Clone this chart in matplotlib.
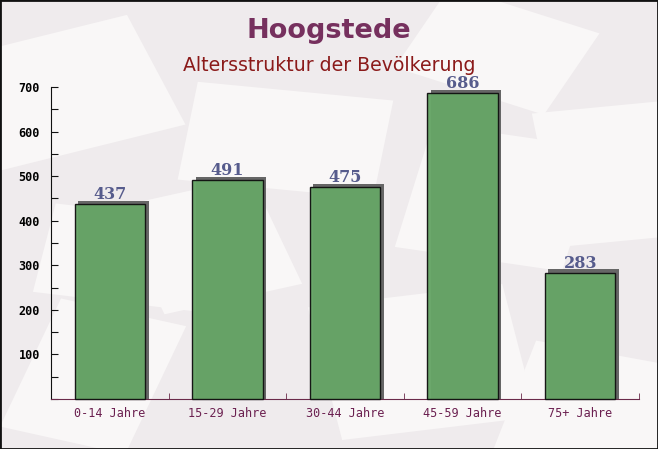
import matplotlib.pyplot as plt
import matplotlib.transforms as mtransforms
from matplotlib.ticker import MultipleLocator

# data
categories = ["0-14 Jahre", "15-29 Jahre", "30-44 Jahre", "45-59 Jahre", "75+ Jahre"]
values = [437, 491, 475, 686, 283]
title = "Hoogstede"
subtitle = "Altersstruktur der Bevölkerung"

fig = plt.figure(figsize=(6.58, 4.49), dpi=100, facecolor="#efebed")
ax = fig.add_axes([0.0775, 0.1114, 0.8935, 0.6948])
ax.set_facecolor("none")

# faint background "envelopes"
for (x, y, w, h, ang) in [(0.0, 0.62, 0.3, 0.26, 20), (0.27, 0.6, 0.3, 0.22, -8),
                          (0.52, 0.02, 0.3, 0.3, 10), (0.6, 0.45, 0.26, 0.28, -12),
                          (0.85, 0.45, 0.2, 0.3, 8), (0.25, 0.3, 0.22, 0.25, 18),
                          (0.75, 0.0, 0.25, 0.25, -15), (0.0, 0.05, 0.2, 0.3, -18),
                          (0.6, 0.85, 0.25, 0.2, -25), (0.05, 0.35, 0.25, 0.2, -10)]:
    r = plt.Rectangle((x, y), w, h, angle=ang, transform=fig.transFigure,
                      facecolor="#f9f7f7", edgecolor="none", zorder=-5)
    fig.patches.append(r)

pos = list(range(len(categories)))

# shadow behind bars (up and to the right), reaching down to the axis
shift = mtransforms.ScaledTranslation(3.5 / 100, 3.5 / 100, fig.dpi_scale_trans)
ax.bar(pos, [v + 50 for v in values], bottom=-50, width=0.6, color="#666666",
       edgecolor="none", transform=ax.transData + shift, zorder=2, clip_on=True)
ax.bar(pos, values, width=0.6, color="#66a566", alpha=0.97,
       edgecolor="#111111", linewidth=1.0, zorder=3, clip_on=False)

for p, v in zip(pos, values):
    ax.annotate(str(v), (p, v), xytext=(0, 3.8), textcoords="offset points",
                ha="center", va="baseline", fontsize=11.5, fontweight="bold",
                family="DejaVu Serif", color="#565b8c", zorder=4)

ax.set_xlim(-0.5, len(categories) - 0.5)
ax.set_ylim(0, 700)

ax.spines["top"].set_visible(False)
ax.spines["right"].set_visible(False)
ax.spines["left"].set_color("#111111")
ax.spines["bottom"].set_color("#6b2a4a")

ax.yaxis.set_minor_locator(MultipleLocator(50))
ax.set_yticks([100, 200, 300, 400, 500, 600, 700])
ax.tick_params(axis="y", which="both", direction="in", length=5, width=0.8,
               color="#111111", labelsize=8.5, pad=8)
for lbl in ax.get_yticklabels():
    lbl.set_family("DejaVu Sans Mono")
    lbl.set_fontweight("bold")

ax.set_xticks(pos)
ax.set_xticklabels(categories, family="DejaVu Sans Mono", fontsize=8.5,
                   color="#6b2050")
ax.set_xticks([p + 0.5 for p in pos], minor=True)
ax.tick_params(axis="x", which="major", length=0, pad=6)
ax.tick_params(axis="x", which="minor", direction="in", length=4,
               color="#6b2a4a")

fig.text(0.5, 0.932, title, ha="center", va="center", fontsize=19.5,
         fontweight="bold", color="#76305e")
fig.text(0.5, 0.855, subtitle, ha="center", va="center", fontsize=13.6,
         color="#8b1a1a")

# frame around the picture
fig.patches.append(plt.Rectangle((0, 0), 1, 1, transform=fig.transFigure,
                                 fill=False, edgecolor="#111111", linewidth=2))

fig.savefig("out.png", dpi=100, facecolor=fig.get_facecolor())
